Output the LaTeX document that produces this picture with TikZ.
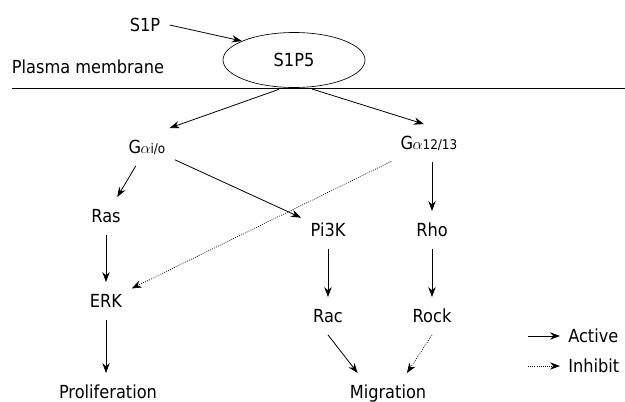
\documentclass[tikz,border=0pt]{standalone}
\usepackage{fontspec}
\setmainfont{DejaVu Sans}[FakeStretch=0.9]
\usepackage{tikz}
\usetikzlibrary{shapes.geometric, arrows.meta, positioning}
\tikzstyle{molecule} = [inner sep=7pt, text height=12pt, text depth=2pt, font=\fontsize{13.5}{15}\selectfont]
\tikzstyle{receptor} = [ellipse, draw, line width=0.5pt, inner sep=0pt, minimum width=106.5pt, minimum height=41.25pt, font=\fontsize{13.5}{15}\selectfont]
\tikzstyle{arrow} = [line width=0.6pt, -{Stealth[length=7.5pt, width=5.5pt]}]
\tikzstyle{inhib} = [arrow, densely dotted, line width=0.55pt]
\newcommand{\Galpha}[1]{G\kern-0.5pt{\fontsize{13}{13}\selectfont$\alpha$}{\fontsize{10}{10}\selectfont #1}}

\begin{document}
\begin{tikzpicture}[x=0.75pt, y=-0.75pt]
    \useasboundingbox (0,0) rectangle (625,401);

    % Membrane
    \node[molecule, inner sep=0pt] (pm) at (88,67) {Plasma membrane};
    \draw[line width=0.6pt] (12,88) -- (625,88);
    \node[molecule] (s1p) at (145,25) {S1P};
    \node[receptor] (s1p5) at (294,60) {S1P5};
    \draw[arrow] (s1p.east) -- (s1p5.160);

    % G proteins
    \node[molecule] (gi) at (147,147) {\Galpha{i/o}};
    \node[molecule] (g12) at (429,143) {\Galpha{12/13}};
    \draw[arrow, shorten <=4pt] (s1p5.250) -- (gi.40);
    \draw[arrow, shorten <=4pt] (s1p5.295) -- (g12.105);

    % Proliferation branch
    \node[molecule] (ras) at (106,216) {Ras};
    \node[molecule] (erk) at (106,301) {ERK};
    \node[molecule] (prolif) at (108,392) {Proliferation};
    \draw[arrow] (gi) -- (ras);
    \draw[arrow] (ras.south) -- (erk.north);
    \draw[arrow] (erk.south) -- (erk.south |- prolif.north);
    \draw[inhib] (g12) -- (erk);

    % Migration branch
    \node[molecule] (pi3k) at (328,230) {Pi3K};
    \node[molecule] (rac) at (328,316) {Rac};
    \node[molecule] (rho) at (432,230) {Rho};
    \node[molecule] (rock) at (432,316) {Rock};
    \node[molecule] (migr) at (388,392) {Migration};
    \draw[arrow] (gi) -- (pi3k);
    \draw[arrow] (pi3k.south) -- (rac.north);
    \draw[arrow] (g12.south -| rho.north) -- (rho.north);
    \draw[arrow] (rho.south) -- (rock.north);
    \draw[arrow] (rac.south) -- (migr.148);
    \draw[inhib] (rock.south) -- (migr.45);

    % Legend
    \node[molecule, inner sep=0pt, anchor=west] (act) at (568,336) {Active};
    \node[molecule, inner sep=0pt, anchor=west] (inh) at (568,366) {Inhibit};
    \coordinate (la) at (528,336);
    \coordinate (li) at (528,366);
    \draw[arrow, shorten >=6pt] (la) -- (act.west);
    \draw[inhib, shorten >=6pt] (li) -- (inh.west);
\end{tikzpicture}
\end{document}
